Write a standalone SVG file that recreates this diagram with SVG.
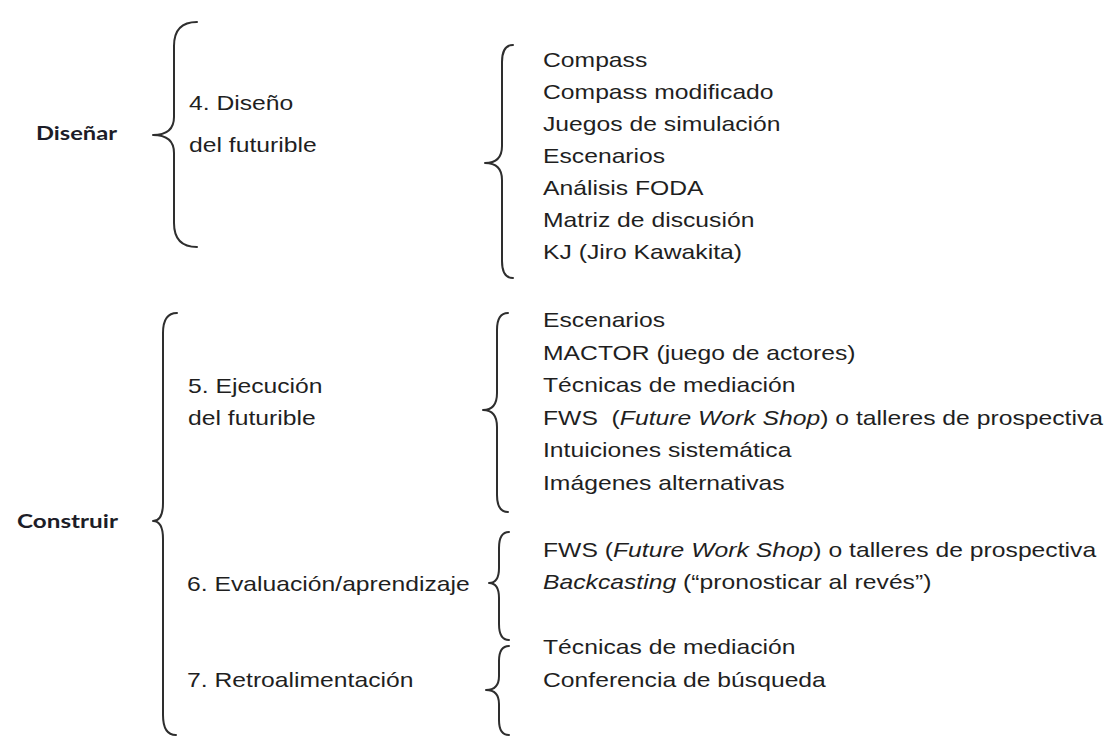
<svg xmlns="http://www.w3.org/2000/svg" width="1110" height="747" viewBox="0 0 1110 747">
<style>
.t{font-family:"Liberation Sans",Arial,sans-serif;font-size:20px;fill:#1f1f1f;white-space:pre}
.b{font-family:Lato,"Open Sans",sans-serif;font-weight:bold;font-size:19.5px;fill:#1d1d28}
.br{fill:none;stroke:#2e2e2e;stroke-width:2;stroke-linecap:round;stroke-linejoin:round}
.i{font-style:italic}
</style>
<rect width="1110" height="747" fill="#ffffff"/>
<g id="connectors">
<path class="br" d="M197,22 Q174,22 174,46 L174,117 Q174,135 153,135 Q174,135 174,153 L174,223 Q174,247 197,247"/>
<path class="br" d="M513,45 Q502,45 502,62 L502,146 Q502,163 485,163 Q502,163 502,180 L502,261 Q502,278 513,278"/>
<path class="br" d="M177,313 Q163,313 163,333 L163,503 Q163,521 153,521 Q163,521 163,539 L163,715 Q163,735 176,735"/>
<path class="br" d="M508,313 Q497,313 497,330 L497,393 Q497,410 483,410 Q497,410 497,427 L497,495 Q497,512 508,512"/>
<path class="br" d="M509,532 Q499,532 499,548 L499,568 Q499,583 489,583 Q499,583 499,598 L499,624 Q499,640 509,640"/>
<path class="br" d="M509,646 Q499,646 499,661 L499,676 Q499,690 486,690 Q499,690 499,704 L499,720 Q499,735 509,735"/>
</g>
<g id="disenar"><text class="b" x="36" y="140" textLength="81" lengthAdjust="spacingAndGlyphs">Diseñar</text></g>
<g id="construir"><text class="b" x="17" y="528" textLength="101" lengthAdjust="spacingAndGlyphs">Construir</text></g>
<g id="fase4">
<text class="t" transform="translate(189,110) scale(1.235,1)">4. Diseño</text>
<text class="t" transform="translate(189,152) scale(1.235,1)">del futurible</text>
</g>
<g id="fase5">
<text class="t" transform="translate(188,393) scale(1.235,1)">5. Ejecución</text>
<text class="t" transform="translate(188,425) scale(1.235,1)">del futurible</text>
</g>
<g id="fase6"><text class="t" transform="translate(187,591) scale(1.235,1)">6. Evaluación/aprendizaje</text></g>
<g id="fase7"><text class="t" transform="translate(187,687) scale(1.235,1)">7. Retroalimentación</text></g>
<g id="tecnicas4">
<text class="t" transform="translate(543,67) scale(1.235,1)">Compass</text>
<text class="t" transform="translate(543,99) scale(1.235,1)">Compass modificado</text>
<text class="t" transform="translate(543,131) scale(1.235,1)">Juegos de simulación</text>
<text class="t" transform="translate(543,163) scale(1.235,1)">Escenarios</text>
<text class="t" transform="translate(543,195) scale(1.235,1)">Análisis FODA</text>
<text class="t" transform="translate(543,227) scale(1.235,1)">Matriz de discusión</text>
<text class="t" transform="translate(543,259) scale(1.235,1)">KJ (Jiro Kawakita)</text>
</g>
<g id="tecnicas5">
<text class="t" transform="translate(543,327) scale(1.235,1)">Escenarios</text>
<text class="t" transform="translate(543,359.5) scale(1.235,1)">MACTOR (juego de actores)</text>
<text class="t" transform="translate(543,392) scale(1.235,1)">Técnicas de mediación</text>
<text class="t" transform="translate(543,424.5) scale(1.235,1)">FWS  (<tspan class="i">Future Work Shop</tspan>) o talleres de prospectiva</text>
<text class="t" transform="translate(543,457) scale(1.235,1)">Intuiciones sistemática</text>
<text class="t" transform="translate(543,489.5) scale(1.235,1)">Imágenes alternativas</text>
</g>
<g id="tecnicas6">
<text class="t" transform="translate(543,557) scale(1.235,1)">FWS (<tspan class="i">Future Work Shop</tspan>) o talleres de prospectiva</text>
<text class="t" transform="translate(543,589) scale(1.235,1)"><tspan class="i">Backcasting</tspan> (“pronosticar al revés”)</text>
</g>
<g id="tecnicas7">
<text class="t" transform="translate(543,654) scale(1.235,1)">Técnicas de mediación</text>
<text class="t" transform="translate(543,687) scale(1.235,1)">Conferencia de búsqueda</text>
</g>
</svg>
